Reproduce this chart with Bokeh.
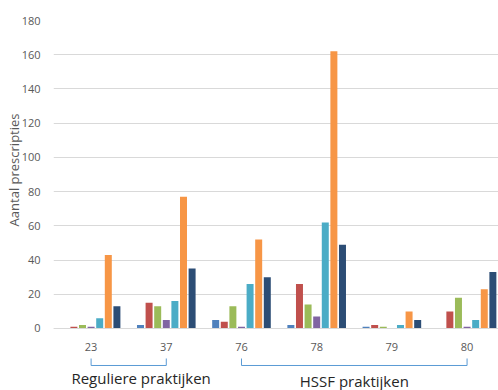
from bokeh.plotting import figure
from bokeh.models import Range1d, FixedTicker, ColumnDataSource, Title
from bokeh.core.properties import value
from bokeh.embed import file_html
from bokeh.resources import INLINE

categories = ["23", "37", "76", "78", "79", "80"]
s_blue = [0, 2, 5, 2, 1, 0]
s_red = [1, 15, 4, 26, 2, 10]
s_green = [2, 13, 13, 14, 1, 18]
s_purple = [1, 5, 1, 7, 0, 1]
s_cyan = [6, 16, 26, 62, 2, 5]
s_orange = [43, 77, 52, 162, 10, 23]
s_navy = [13, 35, 30, 49, 5, 33]
series = [s_blue, s_red, s_green, s_purple, s_cyan, s_orange, s_navy]
colors = ["#4F81BD", "#C0504D", "#9BBB59", "#8064A2", "#4BACC6", "#F79646", "#2C4D75"]
y_ticks = [0, 20, 40, 60, 80, 100, 120, 140, 160, 180]
groups = [("Reguliere praktijken", 0, 1), ("HSSF praktijken", 2, 5)]
y_title = "Aantal prescripties"

FONT = "Open Sans"
GRAY = "#595959"
PX = 1.711  # pixels per data unit on the y scale

p = figure(width=498, height=390, output_backend="svg", toolbar_location=None,
           x_range=Range1d(-0.5, 5.418), y_range=Range1d(-62 / PX, 180),
           min_border_left=53, min_border_top=20, min_border_bottom=0, min_border_right=0)
p.outline_line_color = None
p.background_fill_color = "white"

xs = list(range(len(categories)))
step = 0.1144
for i, (vals, c) in enumerate(zip(series, colors)):
    off = (i - 3) * step
    src = ColumnDataSource(dict(x=[x + off for x in xs], top=vals))
    p.vbar(x="x", top="top", bottom=0, width=0.093, source=src, fill_color=c, line_color=None)

# x axis at value 0
p.xaxis.fixed_location = 0
p.xaxis.ticker = FixedTicker(ticks=xs)
p.xaxis.major_label_overrides = {x: c for x, c in zip(xs, categories)}
p.xaxis.axis_line_color = "#D9D9D9"
p.xaxis.major_tick_line_color = None
p.xaxis.minor_tick_line_color = None
p.xaxis.major_label_text_color = GRAY
p.xaxis.major_label_text_font = FONT
p.xaxis.major_label_text_font_size = "11px"
p.xaxis.major_label_standoff = 9

p.yaxis.ticker = FixedTicker(ticks=y_ticks)
p.yaxis.axis_line_color = None
p.yaxis.major_tick_line_color = None
p.yaxis.minor_tick_line_color = None
p.yaxis.major_tick_out = 0
p.yaxis.major_label_text_color = GRAY
p.yaxis.major_label_text_font = FONT
p.yaxis.major_label_text_font_size = "11px"
p.yaxis.major_label_standoff = 13

p.xgrid.grid_line_color = None
p.ygrid.ticker = FixedTicker(ticks=y_ticks)
p.ygrid.grid_line_color = "#D9D9D9"

# y axis title as a side title, placed alongside the upper-middle of the plot
p.add_layout(Title(text=y_title, align="right", offset=93, text_color=GRAY,
                   text_font=FONT, text_font_size="13px", text_font_style="normal",
                   standoff=-8), "left")

# group brackets and labels
y_top = -30 / PX
y_bot = -37 / PX
for name, a, b in groups:
    p.line(x=[a, a, b, b], y=[y_top, y_bot, y_bot, y_top], line_color="#5B9BD5", line_width=1)
bx = [0.665, (groups[1][1] + groups[1][2]) / 2]
p.text(x=bx, y=[-40 / PX, -43 / PX], text=[g[0] for g in groups],
       text_font=value(FONT), text_font_size="15px", text_color="#262626",
       text_align="center", text_baseline="top")

open("out.html", "w").write(file_html(p, INLINE))
